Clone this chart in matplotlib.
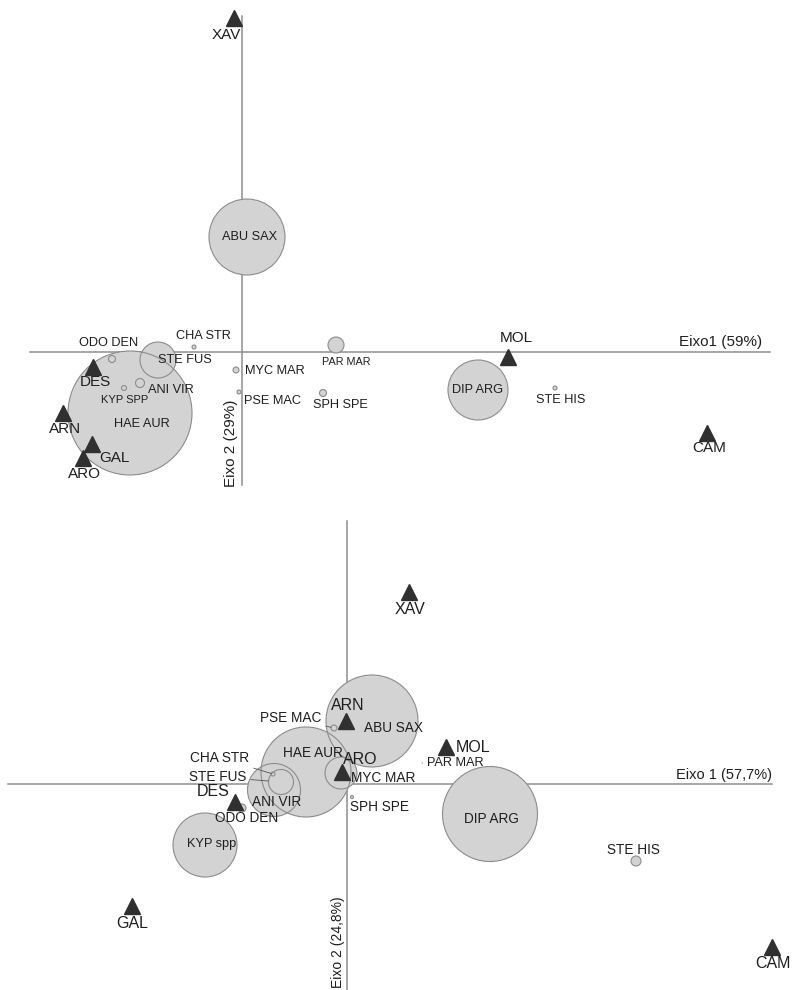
import matplotlib.pyplot as plt
from matplotlib.patches import Circle

plt.rcParams['font.family'] = ['Liberation Sans', 'DejaVu Sans']

# ---- painel superior: especies (escores e raio ~ abundancia) ----
sp_top = ['ABU SAX', 'ODO DEN', 'CHA STR', 'STE FUS', 'ANI VIR', 'KYP SPP', 'HAE AUR',
          'MYC MAR', 'PSE MAC', 'PAR MAR', 'SPH SPE', 'DIP ARG', 'STE HIS']
sp_top_x = [0.05, -1.30, -0.48, -0.84, -1.02, -1.18, -1.12, -0.06, -0.03, 0.94, 0.81, 2.36, 3.13]
sp_top_y = [1.15, -0.07, 0.05, -0.08, -0.31, -0.36, -0.61, -0.18, -0.40, 0.07, -0.41, -0.38, -0.36]
sp_top_r = [0.38, 0.035, 0.02, 0.18, 0.045, 0.025, 0.62, 0.03, 0.02, 0.08, 0.035, 0.30, 0.02]

# ---- painel superior: locais ----
site_top = ['XAV', 'DES', 'ARN', 'GAL', 'ARO', 'MOL', 'CAM']
site_top_x = [-0.08, -1.49, -1.79, -1.50, -1.59, 2.66, 4.65]
site_top_y = [3.34, -0.15, -0.61, -0.92, -1.06, -0.05, -0.81]

# ---- painel inferior: especies ----
sp_bot = ['ABU SAX', 'PSE MAC', 'HAE AUR', 'MYC MAR', 'CHA STR', 'STE FUS', 'ANI VIR',
          'ODO DEN', 'KYP spp', 'SPH SPE', 'PAR MAR', 'DIP ARG', 'STE HIS']
sp_bot_x = [0.25, -0.13, -0.41, -0.06, -0.74, -0.66, -0.73, -1.05, -1.42, 0.05, 0.75, 1.43, 2.89]
sp_bot_y = [0.63, 0.56, 0.12, 0.11, 0.10, 0.02, -0.06, -0.24, -0.61, -0.13, 0.21, -0.30, -0.77]
sp_bot_r = [0.46, 0.03, 0.45, 0.16, 0.02, 0.125, 0.265, 0.04, 0.32, 0.015, 0.0, 0.475, 0.05]

# ---- painel inferior: locais ----
site_bot = ['XAV', 'ARN', 'ARO', 'MOL', 'DES', 'GAL', 'CAM']
site_bot_x = [0.62, -0.01, -0.05, 0.99, -1.12, -2.15, 4.25]
site_bot_y = [1.92, 0.63, 0.12, 0.37, -0.18, -1.22, -1.63]

# deslocamento dos rotulos em pixels (dx, dy para cima)
lab_top = {'ABU SAX': (3, 0), 'ODO DEN': (-3, 16), 'CHA STR': (9, 11), 'STE FUS': (27, 0),
           'ANI VIR': (31, -7), 'KYP SPP': (1, -12), 'HAE AUR': (12, -11), 'MYC MAR': (39, -1),
           'PSE MAC': (34, -9), 'PAR MAR': (10, -17), 'SPH SPE': (17, -12), 'DIP ARG': (0, 0),
           'STE HIS': (6, -12)}
site_lab_top = {'XAV': (-8, -17), 'DES': (2, -15), 'ARN': (2, -16), 'GAL': (22, -14),
                'ARO': (1, -16), 'MOL': (8, 19), 'CAM': (2, -15)}
lab_bot = {'ABU SAX': (21, -7), 'PSE MAC': (-43, 10), 'HAE AUR': (7, 19), 'MYC MAR': (42, -5),
           'CHA STR': (-53, 16), 'STE FUS': (-63, 5), 'ANI VIR': (3, -12), 'ODO DEN': (5, -10),
           'KYP spp': (7, 1), 'SPH SPE': (27, -10), 'PAR MAR': (33, 0), 'DIP ARG': (1, -5),
           'STE HIS': (-3, 11)}
site_lab_bot = {'XAV': (1, -17), 'ARN': (2, 15), 'ARO': (18, 12), 'MOL': (27, 0),
                'DES': (-22, 10), 'GAL': (0, -18), 'CAM': (1, -16)}
guia_bot = ['PSE MAC', 'CHA STR', 'STE FUS', 'PAR MAR']

FACE = '#d3d3d3'
EDGE = '#8c8c8c'
LINE = '#8e8e8e'
TXT = '#1e1e1e'


def painel(ax, sp, sx, sy, sr, lab, fs_sp, small, site, tx, ty, site_lab, fs_site, guia=()):
    for x, y, r in zip(sx, sy, sr):
        if r <= 0:
            continue
        ax.add_patch(Circle((x, y), r, facecolor=FACE, edgecolor='none', zorder=1))
    for x, y, r in zip(sx, sy, sr):
        if r <= 0:
            continue
        ax.add_patch(Circle((x, y), r, facecolor='none', edgecolor=EDGE, lw=0.8, zorder=2))
    for nome, x, y, r in zip(sp, sx, sy, sr):
        dx, dy = lab[nome]
        fs = small.get(nome, fs_sp)
        if nome in guia:
            ax.annotate(nome, (x, y), xytext=(dx, dy), textcoords='offset pixels',
                        ha='center', va='center', fontsize=fs, color=TXT, zorder=4,
                        arrowprops=dict(arrowstyle='-', color='#555555', lw=0.6,
                                        shrinkA=1, shrinkB=r * 72))
        else:
            ax.annotate(nome, (x, y), xytext=(dx, dy), textcoords='offset pixels',
                        ha='center', va='center', fontsize=fs, color=TXT, zorder=4)
    ax.plot(tx, ty, ls='none', marker='^', ms=12, color='#303030', zorder=3)
    for nome, x, y in zip(site, tx, ty):
        dx, dy = site_lab[nome]
        ax.annotate(nome, (x, y), xytext=(dx, dy), textcoords='offset pixels',
                    ha='center', va='center', fontsize=fs_site, color=TXT, zorder=4)
    ax.set_aspect('equal')
    ax.axis('off')


fig = plt.figure(figsize=(7.92, 9.9), dpi=100)

# 1 unidade = 100 px nos dois paineis
ax1 = fig.add_axes([0, 490 / 990, 1, 500 / 990])
ax1.set_xlim(-2.42, 5.50)
ax1.set_ylim(-1.48, 3.52)
ax1.plot([-2.12, 5.28], [0, 0], color=LINE, lw=1.1, zorder=0.5)
ax1.plot([0, 0], [-1.33, 3.36], color=LINE, lw=1.1, zorder=0.5)
painel(ax1, sp_top, sp_top_x, sp_top_y, sp_top_r, lab_top, 9.2,
       {'KYP SPP': 8, 'PAR MAR': 7.8},
       site_top, site_top_x, site_top_y, site_lab_top, 11)
ax1.text(5.20, 0.10, 'Eixo1 (59%)', ha='right', va='center', fontsize=11, color=TXT)
ax1.text(-0.11, -0.91, 'Eixo 2 (29%)', ha='center', va='center', rotation=90,
         fontsize=11, color=TXT)

ax2 = fig.add_axes([0, 0, 1, 490 / 990])
ax2.set_xlim(-3.47, 4.45)
ax2.set_ylim(-2.06, 2.84)
ax2.plot([-3.39, 4.25], [0, 0], color=LINE, lw=1.1, zorder=0.5)
ax2.plot([0, 0], [-2.06, 2.63], color=LINE, lw=1.1, zorder=0.5)
painel(ax2, sp_bot, sp_bot_x, sp_bot_y, sp_bot_r, lab_bot, 9.8,
       {'KYP spp': 9.2, 'PAR MAR': 9.2},
       site_bot, site_bot_x, site_bot_y, site_lab_bot, 11.5, guia=guia_bot)
ax2.text(4.25, 0.09, 'Eixo 1 (57,7%)', ha='right', va='center', fontsize=10.5, color=TXT)
ax2.text(-0.09, -1.58, 'Eixo 2 (24,8%)', ha='center', va='center', rotation=90,
         fontsize=10, color=TXT)

fig.savefig('out.png', dpi=100, facecolor='white')
